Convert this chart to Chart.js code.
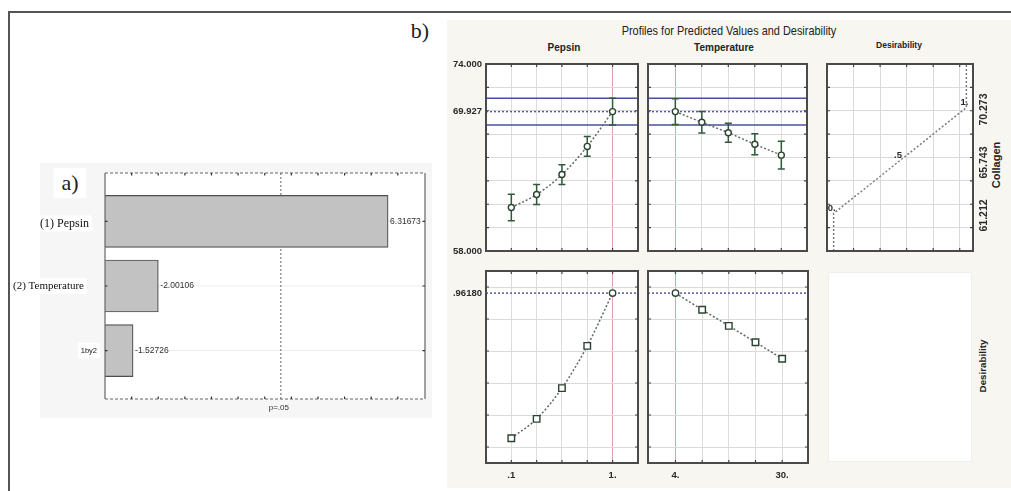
<!DOCTYPE html>
<html><head><meta charset="utf-8">
<script src="https://cdn.jsdelivr.net/npm/chart.js@4.4.1/dist/chart.umd.min.js"></script>
<style>
html,body{margin:0;padding:0;background:#fff;}
#page{position:relative;width:1011px;height:491px;overflow:hidden;font-family:"Liberation Sans",Arial,sans-serif;color:#222;}
canvas{position:absolute;left:0;top:0;}
.c{position:absolute;transform:translate(-50%,-50%);white-space:nowrap;line-height:1;}
.r{position:absolute;transform:translate(-50%,-50%) rotate(-90deg);white-space:nowrap;line-height:1;}
.serif{font-family:"Liberation Serif","Times New Roman",serif;}
</style></head><body>
<div id="page">
  <div style="position:absolute;left:8px;top:11px;width:1100px;height:600px;border-top:2px solid #555;border-left:2px solid #555;"></div>
  <div style="position:absolute;left:40px;top:163px;width:392px;height:255px;background:#f6f6f6;"></div>
  <div style="position:absolute;left:447px;top:20px;width:564px;height:468px;background:#f7f6f1;"></div>
  <div style="position:absolute;left:828px;top:272px;width:144px;height:190px;background:#fff;border:1px solid #f0efea;box-sizing:border-box;"></div>

  <div class="c serif" style="left:70px;top:183px;font-size:22px;background:#fff;padding:4px 8px;">a)</div>
  <div class="c serif" style="left:420px;top:31px;font-size:22px;">b)</div>
  <div class="c" style="left:729px;top:30px;font-size:13px;transform:translate(-50%,-50%) scaleX(0.84);">Profiles for Predicted Values and Desirability</div>
  <div class="c" style="left:564px;top:48px;font-size:10px;font-weight:bold;">Pepsin</div>
  <div class="c" style="left:724px;top:48px;font-size:10px;font-weight:bold;">Temperature</div>
  <div class="c" style="left:899px;top:45px;font-size:8.5px;font-weight:bold;">Desirability</div>
  <div class="r" style="left:996px;top:165px;font-size:11px;font-weight:bold;">Collagen</div>
  <div class="r" style="left:983px;top:366px;font-size:9.8px;font-weight:bold;">Desirability</div>

  <canvas id="c0" width="1011" height="491"></canvas>
  <canvas id="c1" width="1011" height="491"></canvas>
  <canvas id="c2" width="1011" height="491"></canvas>
  <canvas id="c3" width="1011" height="491"></canvas>
  <canvas id="c4" width="1011" height="491"></canvas>
  <canvas id="c5" width="1011" height="491"></canvas>
</div>
<script>
// ---------------- data ----------------
const paretoEffects = ['(1) Pepsin', '(2) Temperature', '1by2'];
const paretoValues = [6.31673, 2.00106, 1.52726];
const paretoValueLabels = ['6.31673', '-2.00106', '-1.52726'];
const paretoCritical = 4.303;
const paretoCriticalLabel = 'p=.05';

const pepsinLevels = [0.1, 0.325, 0.55, 0.775, 1.0];
const temperatureLevels = [4, 10.5, 17, 23.5, 30];
const pepsinTickLabels = ['.1', '1.'];
const temperatureTickLabels = ['4.', '30.'];

const collagenByPepsin = [61.72, 62.83, 64.54, 66.95, 69.927];
const collagenByPepsinErr = [1.14, 0.85, 0.85, 0.85, 1.14];
const collagenByTemperature = [69.927, 69.01, 68.12, 67.13, 66.2];
const collagenByTemperatureErr = [1.11, 0.92, 0.82, 0.9, 1.18];
const collagenPredicted = 69.927;
const collagenLimits = [68.79, 71.06];
const collagenAxisValues = [74, 69.927, 58];
const collagenAxisLabels = ['74.000', '69.927', '58.000'];
const collagenGrid = [58, 60, 62, 64, 66, 68, 70, 72, 74];

const desirabilityByPepsin = [0.055, 0.176, 0.368, 0.632, 0.9618];
const desirabilityByTemperature = [0.9618, 0.858, 0.757, 0.655, 0.552];
const desirabilityPredicted = 0.9618;
const desirabilityAxisLabel = '.96180';
const desirabilityGrid = [0, 0.2, 0.4, 0.6, 0.8, 1.0];

const desirabilityFnX = [0, 0, 0.5, 1, 1];
const desirabilityFnY = [58, 61.212, 65.743, 70.273, 74];
const desirabilityFnLabels = ['', '0.', '.5', '1.', ''];
const desirabilityFnGrid = [0.15, 0.35, 0.55, 0.75, 0.95];
const collagenRightValues = [61.212, 65.743, 70.273];
const collagenRightLabels = ['61.212', '65.743', '70.273'];

// ---------------- layout helpers ----------------
const W = 1011, H = 491;
const FONT = '"Liberation Sans", Arial, sans-serif';
function box(l, t, r, b) { return { left: l, top: t, right: W - r, bottom: H - b }; }

function txt(c, s, x, y, font, align, color, rot) {
  c.save();
  c.font = font; c.fillStyle = color || '#2a2a2a';
  c.textAlign = align || 'center'; c.textBaseline = 'middle';
  c.translate(x, y);
  if (rot) c.rotate(rot);
  c.fillText(s, 0, 0);
  c.restore();
}

function gridScale(min, max, values, colorFn) {
  return {
    type: 'linear', min: min, max: max, offset: false,
    afterBuildTicks: s => { s.ticks = values.map(v => ({ value: v })); },
    ticks: { display: false },
    grid: { display: true, drawTicks: false, offset: false, color: colorFn || '#dadada', lineWidth: 1 },
    border: { display: false }
  };
}

function panelPlugin(o) {
  return {
    id: 'panel',
    beforeDraw(chart) {
      const a = chart.chartArea, c = chart.ctx;
      c.save(); c.fillStyle = '#fff';
      c.fillRect(a.left, a.top, a.right - a.left, a.bottom - a.top);
      c.restore();
    },
    beforeDatasetsDraw(chart) {
      const c = chart.ctx, a = chart.chartArea, xs = chart.scales.x, ys = chart.scales.y;
      c.save();
      (o.refLines || []).forEach(r => {
        const y = ys.getPixelForValue(r.v);
        c.beginPath(); c.setLineDash(r.dash ? [2, 2] : []);
        c.strokeStyle = r.color; c.lineWidth = r.w;
        c.moveTo(a.left, y); c.lineTo(a.right, y); c.stroke();
      });
      c.setLineDash([]);
      if (o.err) {
        c.strokeStyle = '#2f5a3b'; c.lineWidth = 1.5;
        o.xv.forEach((xv, i) => {
          const x = xs.getPixelForValue(xv);
          const y1 = ys.getPixelForValue(o.yv[i] - o.err[i]);
          const y2 = ys.getPixelForValue(o.yv[i] + o.err[i]);
          c.beginPath();
          c.moveTo(x, y1); c.lineTo(x, y2);
          c.moveTo(x - 3.5, y1); c.lineTo(x + 3.5, y1);
          c.moveTo(x - 3.5, y2); c.lineTo(x + 3.5, y2);
          c.stroke();
        });
      }
      c.restore();
    },
    afterDraw(chart) {
      const c = chart.ctx, a = chart.chartArea, xs = chart.scales.x, ys = chart.scales.y;
      c.save();
      c.strokeStyle = '#4a4a4a'; c.lineWidth = 2;
      c.strokeRect(a.left, a.top, a.right - a.left, a.bottom - a.top);
      c.lineWidth = 1.2; c.strokeStyle = '#444';
      c.beginPath();
      xs.ticks.forEach(t => {
        const x = xs.getPixelForValue(t.value);
        if (x <= a.left + 2 || x >= a.right - 2) return;
        c.moveTo(x, a.top); c.lineTo(x, a.top + 3);
        c.moveTo(x, a.bottom); c.lineTo(x, a.bottom - 3);
      });
      ys.ticks.forEach(t => {
        const y = ys.getPixelForValue(t.value);
        if (y <= a.top + 2 || y >= a.bottom - 2) return;
        c.moveTo(a.left, y); c.lineTo(a.left + 3, y);
        c.moveTo(a.right, y); c.lineTo(a.right - 3, y);
      });
      c.stroke();
      c.restore();
      if (o.text) o.text(chart, c, a, xs, ys);
    }
  };
}

function baseOptions(area) {
  return {
    responsive: false, animation: false, devicePixelRatio: 1,
    layout: { padding: { left: area.left, top: area.top, right: area.right, bottom: area.bottom } },
    plugins: { legend: { display: false }, tooltip: { enabled: false } },
    events: []
  };
}

function pts(xv, yv) { return xv.map((x, i) => ({ x: x, y: yv[i] })); }

const lineStyle = {
  borderColor: '#5d6b5e', borderWidth: 1.5, borderDash: [2, 2],
  cubicInterpolationMode: 'monotone',
  pointBackgroundColor: '#fff', pointBorderColor: '#2b4432', pointBorderWidth: 1.4
};

const pinkLine = v => (ctx => (ctx.tick && Math.abs(ctx.tick.value - v) < 1e-9) ? '#d9a3ad' : '#dcdcdc');
const AXFONT = 'bold 9.5px ' + FONT;

// ---------------- a) Pareto chart ----------------
const paretoArea = box(105, 173, 425, 399);
new Chart(document.getElementById('c0'), {
  type: 'bar',
  data: { datasets: [{
    data: paretoValues.map((v, i) => ({ x: v, y: i })),
    backgroundColor: '#c2c2c2', borderColor: '#4f4f4f', borderWidth: 1.2,
    borderSkipped: false, barThickness: 52
  }] },
  options: Object.assign(baseOptions(paretoArea), {
    indexAxis: 'y',
    scales: {
      x: { type: 'linear', min: 1, max: 7.01, offset: false, ticks: { display: false }, grid: { display: false, drawTicks: false, offset: false }, border: { display: false } },
      y: { type: 'linear', min: -0.75, max: 2.75, reverse: true, offset: false, ticks: { display: false }, grid: { display: false, drawTicks: false, offset: false }, border: { display: false } }
    }
  }),
  plugins: [{
    id: 'pareto',
    beforeDraw(chart) {
      const a = chart.chartArea, c = chart.ctx, xs = chart.scales.x, ys = chart.scales.y;
      c.save();
      c.fillStyle = '#fff'; c.fillRect(a.left, a.top, a.right - a.left, a.bottom - a.top);
      c.strokeStyle = '#ececec'; c.lineWidth = 1;
      paretoEffects.forEach((e, i) => {
        const y = ys.getPixelForValue(i);
        c.beginPath(); c.moveTo(a.left, y); c.lineTo(a.right, y); c.stroke();
      });
      const px = xs.getPixelForValue(paretoCritical);
      c.strokeStyle = '#666'; c.setLineDash([2, 2]);
      c.beginPath(); c.moveTo(px, a.top); c.lineTo(px, a.bottom); c.stroke();
      c.restore();
    },
    afterDraw(chart) {
      const a = chart.chartArea, c = chart.ctx, xs = chart.scales.x, ys = chart.scales.y;
      c.save();
      c.strokeStyle = '#666'; c.lineWidth = 1.2;
      c.beginPath(); c.moveTo(a.left, a.top); c.lineTo(a.left, a.bottom);
      c.moveTo(a.right, a.top); c.lineTo(a.right, a.bottom); c.stroke();
      c.setLineDash([3, 2]);
      c.beginPath(); c.moveTo(a.left, a.top); c.lineTo(a.right, a.top);
      c.moveTo(a.left, a.bottom); c.lineTo(a.right, a.bottom); c.stroke();
      c.setLineDash([]);
      c.strokeStyle = '#333'; c.lineWidth = 1.2;
      c.beginPath();
      for (let v = 1.5; v < 7; v += 0.5) {
        const x = xs.getPixelForValue(v);
        c.moveTo(x, a.top); c.lineTo(x, a.top + 2.5);
        c.moveTo(x, a.bottom); c.lineTo(x, a.bottom - 2.5);
      }
      paretoEffects.forEach((e, i) => {
        const y = ys.getPixelForValue(i);
        c.moveTo(a.left, y); c.lineTo(a.left + 2.5, y);
        c.moveTo(a.right, y); c.lineTo(a.right - 2.5, y);
      });
      c.stroke();
      c.restore();
      paretoValues.forEach((v, i) => {
        txt(c, paretoValueLabels[i], xs.getPixelForValue(v) + 2, ys.getPixelForValue(i), '8.5px ' + FONT, 'left', '#333');
      });
      const fonts = ['12px "Liberation Serif", serif', '11px "Liberation Serif", serif', '7.5px ' + FONT];
      const rights = [89, 84, 97];
      paretoEffects.forEach((e, i) => {
        const y = ys.getPixelForValue(i) + (i === 0 ? 2 : 0);
        c.save(); c.font = fonts[i];
        const w = c.measureText(e).width;
        c.fillStyle = '#fff'; c.fillRect(rights[i] - w - 3, y - 8, w + 6, 16);
        c.restore();
        txt(c, e, rights[i], y, fonts[i], 'right', '#111');
      });
      txt(c, paretoCriticalLabel, xs.getPixelForValue(paretoCritical) - 2, a.bottom + 9, '8px ' + FONT, 'center', '#333');
    }
  }]
});

// ---------------- b) top-left: Pepsin vs Collagen ----------------
const refCollagen = [
  { v: collagenLimits[1], dash: false, color: '#4d4f9c', w: 1.5 },
  { v: collagenLimits[0], dash: false, color: '#4d4f9c', w: 1.5 },
  { v: collagenPredicted, dash: true, color: '#5658a8', w: 1.5 }
];
const refDesir = [{ v: desirabilityPredicted, dash: true, color: '#5658a8', w: 1.5 }];

new Chart(document.getElementById('c1'), {
  type: 'line',
  data: { datasets: [Object.assign({ data: pts(pepsinLevels, collagenByPepsin), pointRadius: 3, pointStyle: 'circle' }, lineStyle)] },
  options: Object.assign(baseOptions(box(486, 64, 638, 251)), {
    scales: { x: gridScale(-0.125, 1.226, pepsinLevels, pinkLine(1.0)), y: gridScale(58, 74, collagenGrid) }
  }),
  plugins: [panelPlugin({
    refLines: refCollagen, err: collagenByPepsinErr, xv: pepsinLevels, yv: collagenByPepsin,
    text: (chart, c, a, xs, ys) => {
      collagenAxisValues.forEach((v, i) => txt(c, collagenAxisLabels[i], a.left - 4, ys.getPixelForValue(v), AXFONT, 'right'));
    }
  })]
});

// ---------------- top-middle: Temperature vs Collagen ----------------
new Chart(document.getElementById('c2'), {
  type: 'line',
  data: { datasets: [Object.assign({ data: pts(temperatureLevels, collagenByTemperature), pointRadius: 3, pointStyle: 'circle' }, lineStyle)] },
  options: Object.assign(baseOptions(box(648, 64, 807, 251)), {
    scales: { x: gridScale(-2.7, 36.3, temperatureLevels, pinkLine(4)), y: gridScale(58, 74, collagenGrid) }
  }),
  plugins: [panelPlugin({ refLines: refCollagen, err: collagenByTemperatureErr, xv: temperatureLevels, yv: collagenByTemperature })]
});

// ---------------- top-right: desirability function ----------------
new Chart(document.getElementById('c3'), {
  type: 'line',
  data: { datasets: [{ data: pts(desirabilityFnX, desirabilityFnY), borderColor: '#7c7c7c', borderWidth: 1.5, borderDash: [2, 2], pointRadius: 0 }] },
  options: Object.assign(baseOptions(box(827, 64, 973, 251)), {
    scales: { x: gridScale(-0.05, 1.05, desirabilityFnGrid), y: gridScale(58, 74, collagenGrid) }
  }),
  plugins: [panelPlugin({
    text: (chart, c, a, xs, ys) => {
      desirabilityFnLabels.forEach((s, i) => {
        if (!s) return;
        txt(c, s, xs.getPixelForValue(desirabilityFnX[i]) - 2, ys.getPixelForValue(desirabilityFnY[i]) - 5, AXFONT, 'center');
      });
      collagenRightValues.forEach((v, i) => {
        txt(c, collagenRightLabels[i], a.right + 11, ys.getPixelForValue(v) + 2, 'bold 10.5px ' + FONT, 'center', '#2a2a2a', -Math.PI / 2);
      });
    }
  })]
});

// ---------------- bottom-left: Pepsin vs Desirability ----------------
const desStyle = (curIdx) => ({
  pointStyle: ctx => ctx.dataIndex === curIdx ? 'circle' : 'rect',
  pointRadius: ctx => ctx.dataIndex === curIdx ? 3.2 : 4.6
});
new Chart(document.getElementById('c4'), {
  type: 'line',
  data: { datasets: [Object.assign({ data: pts(pepsinLevels, desirabilityByPepsin) }, lineStyle, desStyle(4))] },
  options: Object.assign(baseOptions(box(486, 271, 638, 463)), {
    scales: { x: gridScale(-0.125, 1.226, pepsinLevels, pinkLine(1.0)), y: gridScale(-0.1, 1.1, desirabilityGrid) }
  }),
  plugins: [panelPlugin({
    refLines: refDesir,
    text: (chart, c, a, xs, ys) => {
      txt(c, desirabilityAxisLabel, a.left - 4, ys.getPixelForValue(desirabilityPredicted), AXFONT, 'right');
      txt(c, pepsinTickLabels[0], xs.getPixelForValue(pepsinLevels[0]), a.bottom + 12, AXFONT);
      txt(c, pepsinTickLabels[1], xs.getPixelForValue(pepsinLevels[pepsinLevels.length - 1]), a.bottom + 12, AXFONT);
    }
  })]
});

// ---------------- bottom-middle: Temperature vs Desirability ----------------
new Chart(document.getElementById('c5'), {
  type: 'line',
  data: { datasets: [Object.assign({ data: pts(temperatureLevels, desirabilityByTemperature) }, lineStyle, desStyle(0))] },
  options: Object.assign(baseOptions(box(648, 271, 808, 463)), {
    scales: { x: gridScale(-2.7, 36.3, temperatureLevels, pinkLine(4)), y: gridScale(-0.1, 1.1, desirabilityGrid) }
  }),
  plugins: [panelPlugin({
    refLines: refDesir,
    text: (chart, c, a, xs, ys) => {
      txt(c, temperatureTickLabels[0], xs.getPixelForValue(temperatureLevels[0]), a.bottom + 12, AXFONT);
      txt(c, temperatureTickLabels[1], xs.getPixelForValue(temperatureLevels[temperatureLevels.length - 1]), a.bottom + 12, AXFONT);
    }
  })]
});
</script>
</body></html>
